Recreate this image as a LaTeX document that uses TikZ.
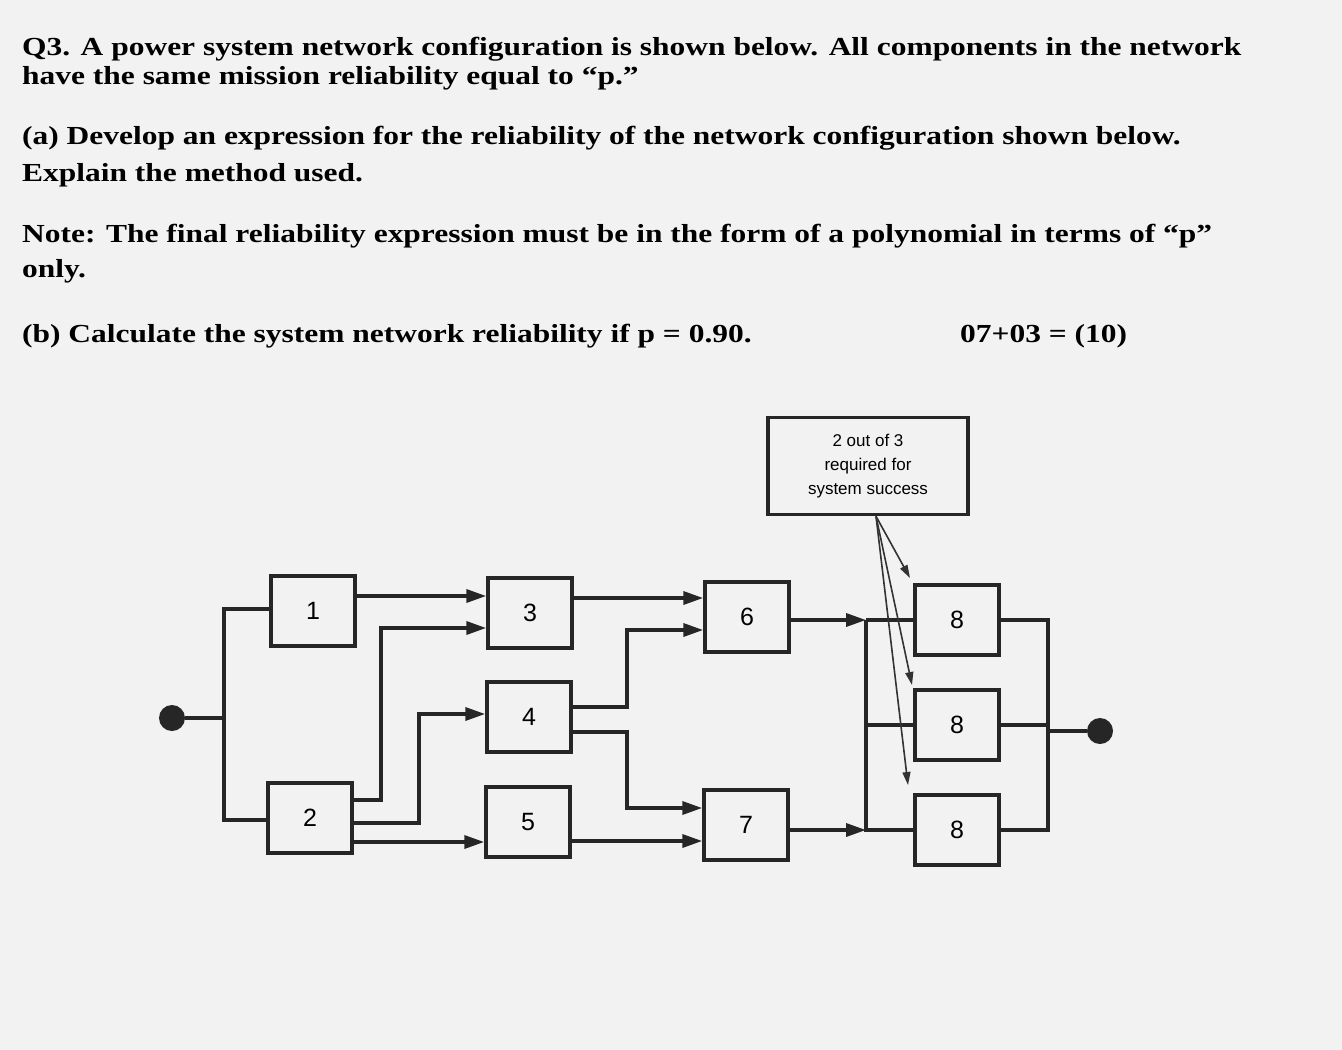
\documentclass[tikz,border=0pt]{standalone}
\usepackage{fontspec}
\setmainfont{Liberation Serif}[FakeStretch=1.21]
\newfontfamily\diag{Liberation Sans}
\usetikzlibrary{arrows.meta}
\begin{document}
\begin{tikzpicture}[x=1pt,y=-1pt,
  blk/.style={draw=black!85,line width=3.5pt,minimum width=84pt,minimum height=70pt,inner sep=0pt,font=\diag\fontsize{25}{25}\selectfont},
  wire/.style={draw=black!85,line width=3.5pt},
  arr/.style={wire,-{Triangle[length=20pt,width=13pt]}},
  thin/.style={draw=black!80,line width=1.6pt,-{Triangle[length=13pt,width=8pt]}},
  txt/.style={anchor=base west,inner sep=0pt,font=\bfseries\fontsize{26}{26}\selectfont}]
\useasboundingbox[fill=black!5] (0,0) rectangle (1342,1050);
\node[txt] (t1) at (22,55) {Q3. A power system network configuration is shown below. All components in the network};
\node[txt] (t2) at (22,84) {have the same mission reliability equal to “p.”};
\node[txt] (t3) at (22,144) {(a) Develop an expression for the reliability of the network configuration shown below.};
\node[txt] (t4) at (22,181) {Explain the method used.};
\node[txt] (t5) at (22,242) {Note: The final reliability expression must be in the form of a polynomial in terms of “p”};
\node[txt] (t6) at (22,277) {only.};
\node[txt] (t7) at (22,342) {(b) Calculate the system network reliability if p = 0.90.};
\node[txt] (t8) at (960,342) {07+03 = (10)};

\node[blk] (b1) at (313,611) {1};
\node[blk] (b2) at (310,818) {2};
\node[blk] (b3) at (530,613) {3};
\node[blk] (b4) at (529,717) {4};
\node[blk] (b5) at (528,822) {5};
\node[blk] (b6) at (747,617) {6};
\node[blk] (b7) at (746,825) {7};
\node[blk] (b8a) at (957,620) {8};
\node[blk] (b8b) at (957,725) {8};
\node[blk] (b8c) at (957,830) {8};
\node[draw=black!85,line width=3.5pt,minimum width=200pt,minimum height=97pt,align=center,font=\diag\fontsize{17}{24}\selectfont] (note) at (868,466) {2 out of 3\\required for\\system success};

\node[circle,fill=black!85,minimum size=26pt,inner sep=0pt] (in) at (172,718) {};
\node[circle,fill=black!85,minimum size=26pt,inner sep=0pt] (out) at (1100,731) {};

\coordinate (bl) at (224,718);
\draw[wire] (in) -- (bl);
\draw[wire] (b1.west |- 0,609) -| (224,609) |- (b2.west |- 0,820);
\draw[arr] (b1.east |- 0,596) -- (b3.west |- 0,596);
\draw[arr] (b2.east |- 0,800) -| (381,628) -- (b3.west |- 0,628);
\draw[arr] (b2.east |- 0,823) -| (419,714) -- (b4.west |- 0,714);
\draw[arr] (b2.east |- 0,842) -- (b5.west |- 0,842);
\draw[arr] (b3.east |- 0,598) -- (b6.west |- 0,598);
\draw[arr] (b4.east |- 0,707) -| (627,630) -- (b6.west |- 0,630);
\draw[arr] (b4.east |- 0,732) -| (627,808) -- (b7.west |- 0,808);
\draw[arr] (b5.east |- 0,841) -- (b7.west |- 0,841);
\coordinate (bus) at (866,620);
\draw[arr] (b6.east |- 0,620) -- (866,620);
\draw[arr] (b7.east |- 0,830) -- (866,830);
\draw[wire] (866,620) -- (b8a.west) (866,620) -- (866,830) -- (b8c.west) (866,725) -- (b8b.west);
\draw[wire] (b8a.east) -| (1048,830) -- (b8c.east) (b8b.east) -- (1048,725);
\draw[wire] (1048,731) -- (out);
\draw[thin] (note.south -| 876,515) -- (910,578);
\draw[thin] (note.south -| 876,515) -- (912,685);
\draw[thin] (note.south -| 876,515) -- (908,785);
\end{tikzpicture}
\end{document}
